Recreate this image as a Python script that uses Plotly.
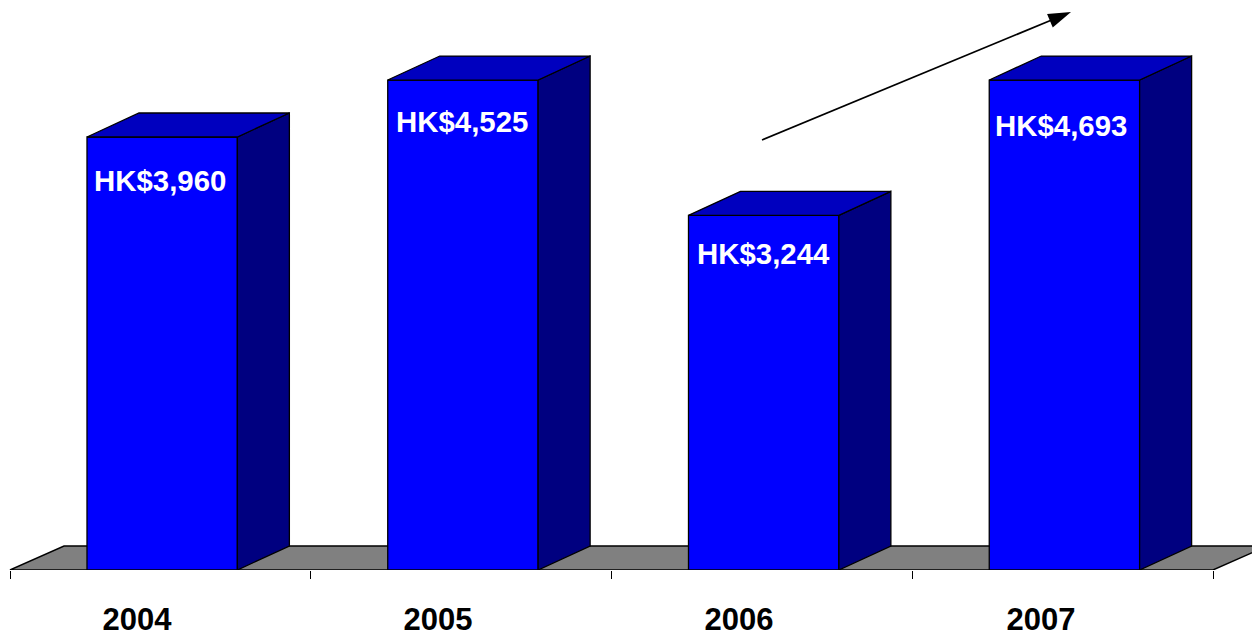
import plotly.graph_objects as go

# ---- data ----
years = ["2004", "2005", "2006", "2007"]
value_labels = ["HK$3,960", "HK$4,525", "HK$3,244", "HK$4,693"]
# Heights as actually drawn (the last two bars reach the same top in the source)
drawn_heights = [3960, 4481, 3244, 4481]

# ---- style / layout ----
W, H = 1252, 632
PX_PER_CAT = 300.75
PX_PER_VAL = 433 / 3960
X0_PX, BASE_PX = 10, 570

BAR_W = 0.5
BAR_CENTER = 0.506
DX = 52 / PX_PER_CAT
DY = 24 / PX_PER_VAL
FLOOR_DX = 54 / PX_PER_CAT
LABEL_DX_PX = [-2, -1, 0, -3]
LABEL_DY_PX = [43, 41, 38, 45]
YEAR_OFFSETS = [0.422, 0.423, 0.424, 0.428]

FRONT, TOP, SIDE, FLOOR = "#0000FF", "#0000BF", "#000080", "#808080"
FONT = "Liberation Sans, Arial, sans-serif"

x_range = [-X0_PX / PX_PER_CAT, (W - X0_PX) / PX_PER_CAT]
y_top = BASE_PX / PX_PER_VAL
centers = [i + BAR_CENTER for i in range(len(years))]

fig = go.Figure()

fig.add_trace(go.Bar(
    x=centers, y=drawn_heights, width=BAR_W,
    marker=dict(color=FRONT, line=dict(color="black", width=1.3)),
    showlegend=False, hoverinfo="skip",
))

for c, h in zip(centers, drawn_heights):
    l, r = c - BAR_W / 2, c + BAR_W / 2
    fig.add_trace(go.Scatter(  # side face
        x=[r, r + DX, r + DX, r, r], y=[0, DY, h + DY, h, 0],
        mode="lines", fill="toself", fillcolor=SIDE,
        line=dict(color="black", width=1.3), showlegend=False, hoverinfo="skip",
    ))
    fig.add_trace(go.Scatter(  # top face
        x=[l, l + DX, r + DX, r, l], y=[h, h + DY, h + DY, h, h],
        mode="lines", fill="toself", fillcolor=TOP,
        line=dict(color="black", width=1.3), showlegend=False, hoverinfo="skip",
    ))

# Growth arrow
fig.add_trace(go.Scatter(
    x=[(762 - X0_PX) / PX_PER_CAT, (1071 - X0_PX) / PX_PER_CAT],
    y=[(BASE_PX - 140) / PX_PER_VAL, (BASE_PX - 12) / PX_PER_VAL],
    mode="lines+markers",
    line=dict(color="black", width=1.7),
    marker=dict(symbol=["circle", "arrow"], size=[0, 24], color="black",
                opacity=1, angleref="previous", line=dict(width=0)),
    showlegend=False, hoverinfo="skip",
))

n = len(years)
floor_path = f"M 0 0 L {FLOOR_DX} {DY} L {n + FLOOR_DX} {DY} L {n} 0 Z"
shapes = [dict(type="path", path=floor_path, xref="x", yref="y", layer="below",
               fillcolor=FLOOR, line=dict(color="black", width=1.4))]

annotations = []
for c, h, txt, dx, dy in zip(centers, drawn_heights, value_labels, LABEL_DX_PX, LABEL_DY_PX):
    annotations.append(dict(
        x=c + dx / PX_PER_CAT, y=h - dy / PX_PER_VAL, xref="x", yref="y",
        text=f"<b>{txt}</b>", showarrow=False, xanchor="center", yanchor="middle",
        font=dict(family=FONT, size=29.4, color="white"),
    ))

fig.update_layout(
    width=W, height=H,
    margin=dict(l=0, r=0, t=0, b=0),
    paper_bgcolor="white", plot_bgcolor="white",
    showlegend=False, shapes=shapes, annotations=annotations,
    xaxis=dict(
        range=x_range, showgrid=False, zeroline=False, showline=False,
        automargin=False,
        tickmode="array",
        tickvals=[i + o for i, o in enumerate(YEAR_OFFSETS)],
        ticktext=[f"<b>{y}</b>" for y in years],
        ticks="", ticklabelstandoff=28,
        tickfont=dict(family=FONT, size=31, color="black"),
        tickangle=0,
        minor=dict(tickmode="array", tickvals=list(range(n + 1)),
                   ticks="outside", ticklen=8, tickcolor="black", tickwidth=1,
                   showgrid=False),
    ),
    yaxis=dict(
        range=[0, y_top], domain=[(H - BASE_PX) / H, 1],
        visible=False, automargin=False,
    ),
)

fig.write_html("out.html", config={"displayModeBar": False},
               post_script="document.body.style.margin='0';document.body.style.overflow='hidden';")
